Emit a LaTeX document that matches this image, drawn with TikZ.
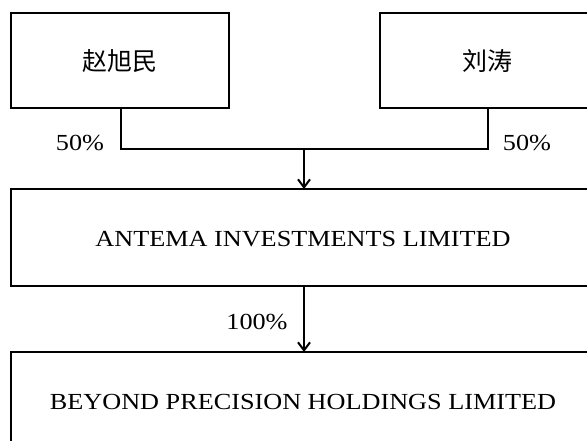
\documentclass[tikz,border=0pt]{standalone}
\usepackage{fontspec}
\setmainfont{Liberation Serif}[FakeStretch=1.14]
\newfontfamily\cjk{Noto Sans CJK SC}
\usetikzlibrary{arrows.meta}

\begin{document}
\begin{tikzpicture}[x=1pt,y=-1pt,
   frame/.style={draw,line width=2.3pt},
   txt/.style={font=\fontsize{23}{27}\selectfont,inner sep=0pt},
   zh/.style={font=\cjk\fontsize{25}{30}\selectfont,inner sep=0pt},
   link/.style={line width=2pt},
   arr/.style={line width=2pt,-{Straight Barb[length=8pt,width=12pt]}}]
   \useasboundingbox (0,0) rectangle (587,441);
   \clip (0,0) rectangle (587,441);
   % shareholders
   \draw[frame] (11,13) rectangle (229,108);
   \draw[frame] (380,13) rectangle (600,108);
   \path (120,61) node[zh] (zhao) {赵旭民};
   \path (487,61) node[zh] (liu) {刘涛};
   % companies
   \draw[frame] (11,189) rectangle (600,286);
   \draw[frame] (11,352) rectangle (600,460);
   \path (303,239) node[txt] (antema) {ANTEMA INVESTMENTS LIMITED};
   \path (303,402) node[txt] (beyond) {BEYOND PRECISION HOLDINGS LIMITED};
   % shares
   \path (80,143) node[txt] (zhaoPct) {50\%};
   \path (527,143) node[txt] (liuPct) {50\%};
   \path (257,322) node[txt] (antemaPct) {100\%};
   % connectors
   \coordinate (zhaoB) at (120.5,108);
   \coordinate (liuB) at (488,108);
   \coordinate (join) at (304,149);
   \coordinate (antemaT) at (304,189);
   \coordinate (antemaB) at (304,286);
   \coordinate (beyondT) at (304,352);
   \draw[link] (zhaoB) |- (join) -| (liuB);
   \draw[arr] (join) -- (antemaT);
   \draw[arr] (antemaB) -- (beyondT);
\end{tikzpicture}
\end{document}
